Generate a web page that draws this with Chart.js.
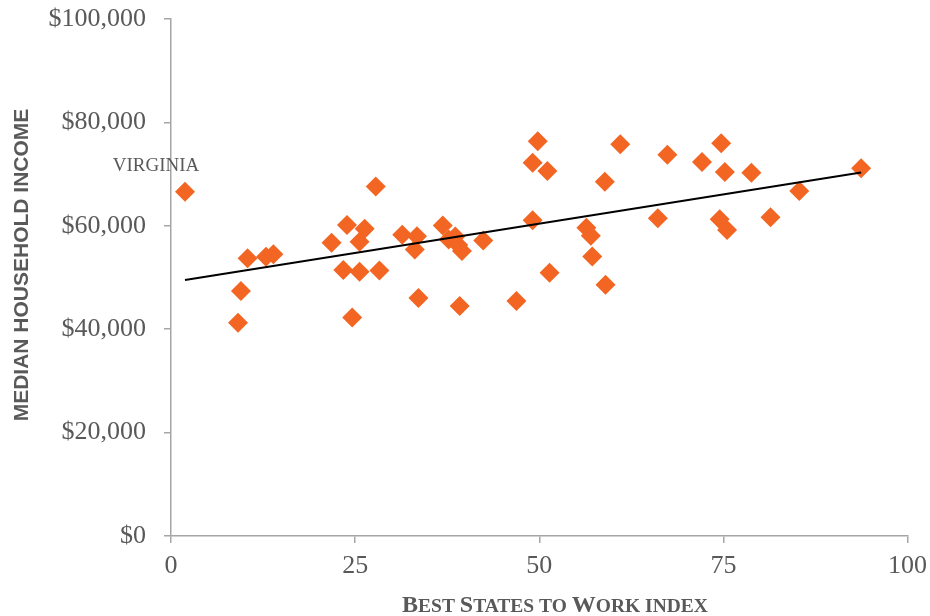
<!DOCTYPE html>
<html>
<head>
<meta charset="utf-8">
<script src="https://cdn.jsdelivr.net/npm/chart.js@4.4.1/dist/chart.umd.min.js"></script>
<style>
  html, body { margin: 0; padding: 0; background: #ffffff; }
  #wrap { width: 930px; height: 616px; position: relative; }
</style>
</head>
<body>
<div id="wrap"><canvas id="chart"></canvas></div>
<script>
// Best States to Work index vs. median household income, one point per state
const workIndex = [
  1.9, 9.1, 9.5, 10.4, 12.9, 13.9, 21.8, 23.4, 23.9, 24.6,
  25.6, 25.6, 26.3, 27.8, 28.3, 31.4, 33.1, 33.4, 33.6, 36.9,
  37.7, 38.6, 39.0, 39.5, 39.2, 42.4, 46.9, 49.1, 49.1, 49.8,
  51.1, 51.4, 56.4, 57.0, 57.2, 58.9, 59.0, 61.0, 66.1, 67.4,
  72.1, 74.7, 74.5, 75.2, 75.5, 78.8, 81.4, 85.3, 93.7
];
const medianIncome = [
  66600, 41260, 47390, 53710, 54020, 54490, 56710, 51450, 60150, 42260,
  56920, 51100, 59440, 67600, 51350, 58280, 55420, 57970, 46030, 60060,
  57350, 57930, 56300, 55130, 44490, 57160, 45450, 72200, 61060, 76350,
  70600, 50930, 59610, 58070, 54060, 68530, 48610, 75760, 61450, 73750,
  72340, 75960, 61260, 70410, 59190, 70270, 61640, 66730, 71120
];

// Linear trend line end points
const trendIndex = [1.9, 93.7];
const trendIncome = [49500, 70300];

// Annotated state (index into the arrays above)
const calloutName = 'VIRGINIA';
const calloutIdx = 0;

const xTickStep = 25;
const yTickStep = 20000;

const axisGray = '#a6a6a6';
const textGray = '#595959';
const markerOrange = '#F26522';

const points = workIndex.map((x, i) => ({ x: x, y: medianIncome[i] }));
const trend = trendIndex.map((x, i) => ({ x: x, y: trendIncome[i] }));

// Axis titles and the state callout
const annotations = {
  id: 'annotations',
  afterDraw(chart) {
    const ctx = chart.ctx;
    const xs = chart.scales.x, ys = chart.scales.y;
    ctx.save();

    // state callout above its point
    const px = xs.getPixelForValue(workIndex[calloutIdx]);
    const py = ys.getPixelForValue(medianIncome[calloutIdx]);
    ctx.fillStyle = textGray;
    ctx.font = "19px 'Liberation Serif'";
    ctx.textAlign = 'center';
    ctx.textBaseline = 'alphabetic';
    ctx.fillText(calloutName, px - 29, py - 21);

    // vertical axis title
    ctx.save();
    ctx.translate(22, 265);
    ctx.rotate(-Math.PI / 2);
    ctx.font = "bold 21px 'Liberation Sans'";
    ctx.textAlign = 'center';
    ctx.textBaseline = 'middle';
    ctx.fillText('MEDIAN HOUSEHOLD INCOME', 0, 0);
    ctx.restore();

    // horizontal axis title in small capitals
    const parts = [
      ['B', 1], ['EST ', 0], ['S', 1], ['TATES ', 0], ['TO ', 0],
      ['W', 1], ['ORK ', 0], ['INDEX', 0]
    ];
    const big = "bold 24px 'Liberation Serif'";
    const small = "bold 19.5px 'Liberation Serif'";
    let total = 0;
    parts.forEach(p => { ctx.font = p[1] ? big : small; total += ctx.measureText(p[0]).width; });
    let cx = 555 - total / 2;
    ctx.textAlign = 'left';
    ctx.textBaseline = 'alphabetic';
    parts.forEach(p => {
      ctx.font = p[1] ? big : small;
      ctx.fillText(p[0], cx, 612);
      cx += ctx.measureText(p[0]).width;
    });
    ctx.restore();
  }
};

const tickFont = { family: "'Liberation Serif'", size: 26 };

new Chart(document.getElementById('chart'), {
  type: 'scatter',
  data: {
    datasets: [
      {
        data: trend,
        showLine: true,
        borderColor: '#000000',
        borderWidth: 2,
        pointRadius: 0,
        pointHoverRadius: 0,
        fill: false
      },
      {
        data: points,
        pointStyle: 'rectRot',
        pointRadius: 10,
        pointHoverRadius: 10,
        backgroundColor: markerOrange,
        borderColor: markerOrange,
        borderWidth: 0
      }
    ]
  },
  options: {
    responsive: true,
    maintainAspectRatio: false,
    animation: false,
    devicePixelRatio: 1,
    layout: { padding: { top: 19, right: 22.5, left: 0, bottom: 0 } },
    plugins: {
      legend: { display: false },
      tooltip: { enabled: false }
    },
    scales: {
      x: {
        type: 'linear',
        min: 0,
        max: 100,
        ticks: { stepSize: xTickStep, font: tickFont, color: textGray, padding: 8 },
        grid: { drawOnChartArea: false, drawTicks: true, tickLength: 7, color: axisGray, lineWidth: 1.5 },
        border: { display: true, color: axisGray, width: 1.5 },
        afterFit(s) { s.height = 80; s.paddingLeft = 0; s.paddingRight = 0; }
      },
      y: {
        min: 0,
        max: 100000,
        ticks: {
          stepSize: yTickStep,
          font: tickFont,
          color: textGray,
          padding: 18,
          callback: v => '$' + v.toLocaleString('en-US')
        },
        grid: { drawOnChartArea: false, drawTicks: true, tickLength: 7, color: axisGray, lineWidth: 1.5 },
        border: { display: true, color: axisGray, width: 1.5 },
        afterFit(s) { s.width = 171; s.paddingTop = 0; s.paddingBottom = 0; }
      }
    }
  },
  plugins: [annotations]
});
</script>
</body>
</html>
